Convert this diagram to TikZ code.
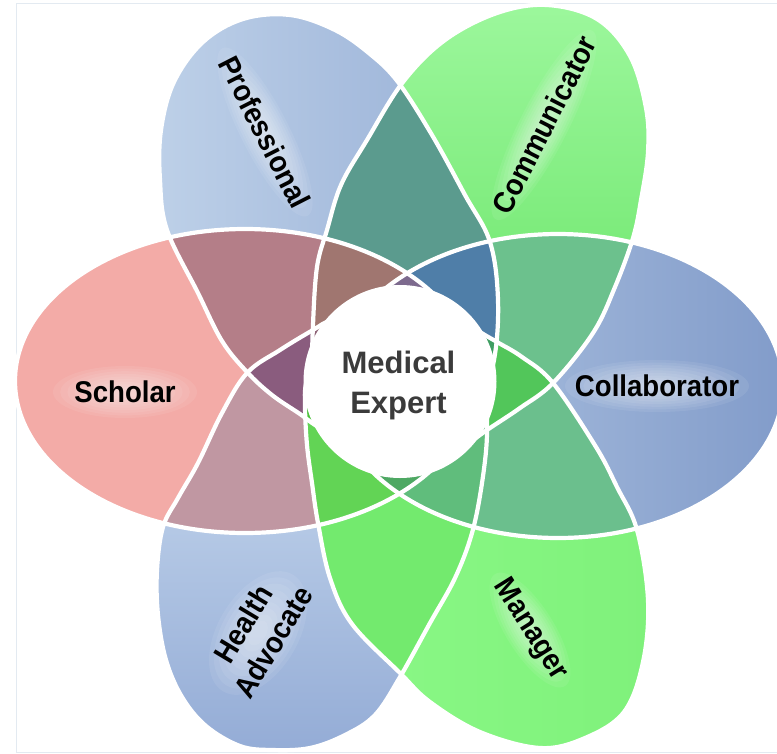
\documentclass[tikz,border=0pt]{standalone}
\usepackage{fontspec}
\setmainfont{Liberation Sans}
\definecolor{cSch}{HTML}{F3ABA7}
\definecolor{cProfL}{HTML}{BDD0E8}
\definecolor{cProfR}{HTML}{97AFD6}
\definecolor{cCommT}{HTML}{9CF79C}
\definecolor{cCommB}{HTML}{5EE05C}
\definecolor{cCollL}{HTML}{B4C8E4}
\definecolor{cCollR}{HTML}{829CCA}
\definecolor{cManL}{HTML}{8CF988}
\definecolor{cManR}{HTML}{7FF17B}
\definecolor{cHAT}{HTML}{D4E4F4}
\definecolor{cHAB}{HTML}{94ACD6}
\definecolor{cSP}{HTML}{B47E88}
\definecolor{cPC}{HTML}{5B9B8E}
\definecolor{cCC}{HTML}{6CC18D}
\definecolor{cCM}{HTML}{6BBF8D}
\definecolor{cMH}{HTML}{73EA6E}
\definecolor{cHS}{HTML}{C097A2}
\definecolor{tSPC}{HTML}{A07670}
\definecolor{tPCC}{HTML}{4F7EA8}
\definecolor{tCCM}{HTML}{52C65A}
\definecolor{tCMH}{HTML}{60BD7C}
\definecolor{tMHS}{HTML}{62D455}
\definecolor{tHSP}{HTML}{8A5C7E}
\definecolor{qSPCC}{HTML}{7D6A8E}
\definecolor{qPCCM}{HTML}{3F9E62}
\definecolor{qCCMH}{HTML}{58B070}
\definecolor{qCMHS}{HTML}{4EA863}
\definecolor{qMHSP}{HTML}{4CC23C}
\definecolor{qHSPC}{HTML}{8D6275}
\definecolor{frameC}{HTML}{E3EAF1}
\definecolor{textC}{HTML}{3B3B3B}
\newcommand\PetalPair[3]{\begin{scope}\clip #1;\fill[#3] #2;\end{scope}}
\newcommand\PetalTri[4]{\begin{scope}\clip #1;\clip #2;\fill[#4] #3;\end{scope}}
\newcommand\PetalQuad[5]{\begin{scope}\clip #1;\clip #2;\clip #3;\fill[#5] #4;\end{scope}}
\newcommand\LabelGlow[5]{\begin{scope}[shift={(#1,#2)},rotate=#3]
  \foreach \s in {1,0.9,0.8,0.7,0.6,0.5,0.4,0.3,0.2}{\fill[white,fill opacity=0.075] (0,0) ellipse [x radius=\s*#4, y radius=\s*#5];}
  \end{scope}}
\tikzset{
  lab/.style={font=\fontsize{30}{35}\selectfont\bfseries, text=black, inner sep=0pt},
  centrelab/.style={font=\fontsize{31}{40}\selectfont\bfseries, text=textC, inner sep=0pt, align=center},
  petaledge/.style={draw=white, line width=4.2}
}
\begin{document}
\begin{tikzpicture}[x=1pt,y=-1pt]
\useasboundingbox (0,0) rectangle (777,753);
\fill[white] (0,0) rectangle (777,753);
\draw[frameC, line width=1] (777,3) -- (16,3) -- (16,752) -- (777,752);

\def\pSch{(245,381) ellipse [x radius=230, y radius=152]}
\def\pColl{(558,386) ellipse [x radius=225, y radius=152]}
\def\pProf{plot[smooth cycle, tension=0.6] coordinates {(167,230) (160,180) (161,130) (174,82) (203,42) (243,19) (290,15) (335,30) (370,54) (398,82) (432,135) (465,195) (490,242) (498,300) (494,360) (478,410) (445,445) (400,457) (355,445) (320,428) (300,414) (272,395) (247,372) (222,341) (198,293)}}
\def\pComm{plot[smooth cycle, tension=0.6] coordinates {(313,325) (317,267) (327,230) (341,185) (367,140) (403,82) (445,40) (497,13) (547,5) (597,19) (630,56) (646,108) (648,152) (641,200) (633,238) (615,287) (593,333) (553,383) (520,408) (487,430) (455,452) (418,467) (378,466) (343,446) (320,405) (313,362)}}
\def\pMan{plot[smooth cycle, tension=0.6] coordinates {(305,405) (307,445) (312,483) (318,523) (330,578) (352,624) (400,673) (430,702) (480,732) (540,748) (585,738) (624,712) (643,662) (648,600) (637,530) (617,487) (596,447) (553,383) (522,357) (497,342) (477,330) (447,308) (400,300) (355,313) (323,345) (307,380)}}
\def\pHA{plot[smooth cycle, tension=0.6] coordinates {(163,527) (157,570) (158,615) (166,660) (182,697) (206,726) (240,746) (272,750) (310,748) (345,735) (375,715) (400,677) (430,623) (455,578) (472,533) (482,483) (487,433) (483,390) (462,346) (422,318) (372,311) (332,320) (313,330) (280,350) (247,373) (222,413) (198,463) (178,498)}}

% single petals
\fill[cSch] \pSch;
\shade[left color=cCollL, middle color=cCollL, right color=cCollR] \pColl;
\shade[left color=cProfL, right color=cProfR] \pProf;
\shade[top color=cCommT, bottom color=cCommB] \pComm;
\shade[left color=cManL, right color=cManR] \pMan;
\shade[top color=cHAT, bottom color=cHAB] \pHA;

% adjacent overlaps
\PetalPair{\pSch}{\pProf}{cSP}
\PetalPair{\pProf}{\pComm}{cPC}
\PetalPair{\pComm}{\pColl}{cCC}
\PetalPair{\pColl}{\pMan}{cCM}
\PetalPair{\pMan}{\pHA}{cMH}
\PetalPair{\pHA}{\pSch}{cHS}
% skip-one overlaps
\PetalPair{\pSch}{\pComm}{tSPC}
\PetalPair{\pProf}{\pColl}{tPCC}
\PetalPair{\pComm}{\pMan}{tCCM}
\PetalPair{\pColl}{\pHA}{tCMH}
\PetalPair{\pMan}{\pSch}{tMHS}
\PetalPair{\pHA}{\pProf}{tHSP}
% triple overlaps
\PetalTri{\pSch}{\pProf}{\pComm}{tSPC}
\PetalTri{\pProf}{\pComm}{\pColl}{tPCC}
\PetalTri{\pComm}{\pColl}{\pMan}{tCCM}
\PetalTri{\pColl}{\pMan}{\pHA}{tCMH}
\PetalTri{\pMan}{\pHA}{\pSch}{tMHS}
\PetalTri{\pHA}{\pSch}{\pProf}{tHSP}
% quadruple overlaps
\PetalQuad{\pSch}{\pProf}{\pComm}{\pColl}{qSPCC}
\PetalQuad{\pProf}{\pComm}{\pColl}{\pMan}{qPCCM}
\PetalQuad{\pComm}{\pColl}{\pMan}{\pHA}{qCCMH}
\PetalQuad{\pColl}{\pMan}{\pHA}{\pSch}{qCMHS}
\PetalQuad{\pMan}{\pHA}{\pSch}{\pProf}{qMHSP}
\PetalQuad{\pHA}{\pSch}{\pProf}{\pComm}{qHSPC}

% label glows
\LabelGlow{125}{392}{0}{72}{26}
\LabelGlow{265}{132}{-63}{94}{24}
\LabelGlow{544}{125}{63}{106}{24}
\LabelGlow{657}{386}{0}{92}{26}
\LabelGlow{530}{630}{-58}{66}{24}
\LabelGlow{258}{633}{59}{68}{40}

% white petal edges
\draw[petaledge] \pSch;
\draw[petaledge] \pColl;
\draw[petaledge] \pProf;
\draw[petaledge] \pComm;
\draw[petaledge] \pMan;
\draw[petaledge] \pHA;

% centre disc
\fill[white] (400,381.5) circle [radius=96.5];

% labels
\node[lab, rotate=-63] (tprof) at (265,132) {\scalebox{0.92}[1]{Professional}};
\node[lab, rotate=63] (tcomm) at (544,125) {\scalebox{0.92}[1]{Communicator}};
\node[lab] (tsch) at (125,392) {\scalebox{0.92}[1]{Scholar}};
\node[lab] (tcoll) at (657,386) {\scalebox{0.92}[1]{Collaborator}};
\node[lab, rotate=-58] (tman) at (530,630) {\scalebox{0.92}[1]{Manager}};
\node[lab, rotate=59, align=center] (tha) at (258,633) {\scalebox{0.92}[1]{Health}\\\scalebox{0.92}[1]{Advocate}};
\node[centrelab] (tmed) at (398.5,385) {Medical\\Expert};
\end{tikzpicture}
\end{document}
